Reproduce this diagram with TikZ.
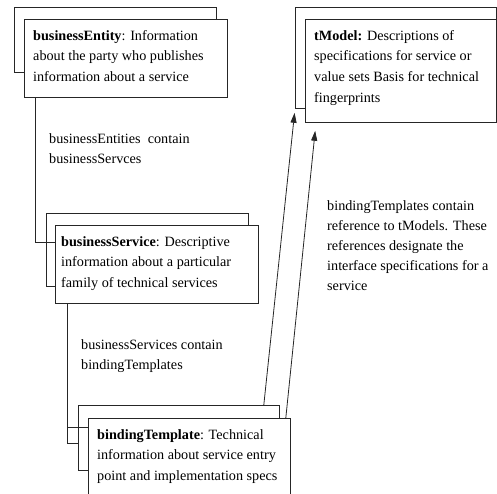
\documentclass[tikz,border=0pt]{standalone}
\usepackage{fontspec}
\setmainfont{Liberation Serif}
\usetikzlibrary{arrows.meta}
% first-line-aligned text block
\newcommand\txtblock[1]{\parbox[t]{220pt}{\raggedright #1}}
\begin{document}
\begin{tikzpicture}[x=1pt,y=-1pt,
  edge/.style={draw=black!85, line width=0.8pt},
  card/.style={edge, fill=white, rectangle, anchor=north west, inner sep=0},
  txt/.style={anchor=base west, inner sep=0, font=\fontsize{14.2}{20.8}\selectfont},
  lbl/.style={anchor=base west, inner sep=0, font=\fontsize{14.2}{20.2}\selectfont},
  ref/.style={edge, -{Triangle[length=10pt,width=6pt]}}
]
\useasboundingbox (0,0) rectangle (497,493);
\clip (0,0) rectangle (497,493);

% back cards (stacked behind)
\node[card, minimum width=202pt, minimum height=65pt]  (beB) at (14,7)   {};
\node[card, minimum width=201pt, minimum height=101pt] (tmB) at (295,7)  {};
\node[card, minimum width=202pt, minimum height=73pt]  (bsB) at (46,213) {};
\node[card, minimum width=201pt, minimum height=65pt]  (btB) at (78,405) {};

% front cards
\node[card, minimum width=203pt, minimum height=78pt]  (be) at (24,19)  {};
\node[card, minimum width=191pt, minimum height=103pt] (tm) at (305,19) {};
\node[card, minimum width=203pt, minimum height=78pt]  (bs) at (55,225) {};
\node[card, minimum width=202pt, minimum height=100pt] (bt) at (88,418) {};

% card texts
\node[txt] (beT) at ([xshift=9pt,yshift=-21pt]be.north west)
  {\txtblock{\textbf{businessEntity}: Information\\about the party who publishes\\information about a service}};
\node[txt] (tmT) at ([xshift=9pt,yshift=-21pt]tm.north west)
  {\txtblock{\textbf{tModel:} Descriptions of\\specifications for service or\\value sets Basis for technical\\fingerprints}};
\node[txt] (bsT) at ([xshift=6pt,yshift=-21pt]bs.north west)
  {\txtblock{\textbf{businessService}: Descriptive\\information about a particular\\family of technical services}};
\node[txt] (btT) at ([xshift=9pt,yshift=-21pt]bt.north west)
  {\txtblock{\textbf{bindingTemplate}: Technical\\information about service entry\\point and implementation specs}};

% containment connectors
\draw[edge] ([xshift=11pt]be.south west) |- ([yshift=-17pt]bs.north west);
\draw[edge] ([xshift=12pt]bs.south west) |- ([yshift=-38pt]btB.north west);
\draw[edge] ([yshift=-9pt]bt.north west) -- ++(-21,0);

% references to tModel
\draw[ref, shorten >=4pt] ([xshift=-16pt]btB.north east) -- (tmB.south west);
\draw[ref, shorten >=8pt] ([xshift=-5pt]bt.north east) -- ([xshift=11pt]tm.south west);

% connector labels
\node[lbl] (lblA) at (49,143.5)
  {\txtblock{businessEntities\ \ contain\\businessServces}};
\node[lbl] (lblB) at (81,349)
  {\txtblock{businessServices contain\\bindingTemplates}};
\node[lbl] (lblC) at (327,210)
  {\txtblock{bindingTemplates contain\\reference to tModels. These\\references designate the\\interface specifications for a\\service}};
\end{tikzpicture}
\end{document}
